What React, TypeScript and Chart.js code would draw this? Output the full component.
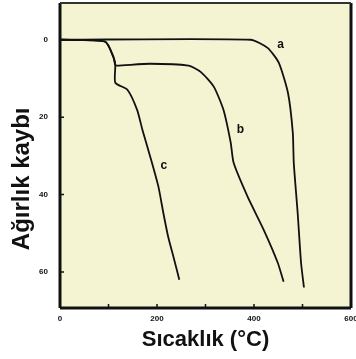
import React, { useEffect, useRef } from "react";
import { Chart, registerables } from "chart.js";

Chart.register(...registerables);

const xTickValues = [0, 200, 400, 600];
const xMinorTicks = [100, 200, 300, 400, 500];
const yTickValues = [0, 20, 40, 60];

const seriesA = [
  { x: 0, y: 0 }, { x: 393, y: 0 }, { x: 428, y: 2.1 }, { x: 451, y: 5.9 },
  { x: 470, y: 13.7 }, { x: 480, y: 24 }, { x: 482, y: 31.8 }, { x: 490, y: 44.7 },
  { x: 497, y: 57.6 }, { x: 503, y: 64 },
];
const seriesB = [
  { x: 0, y: 0 }, { x: 93, y: 0.5 }, { x: 110, y: 4.4 }, { x: 114, y: 6.5 },
  { x: 118, y: 6.7 }, { x: 186, y: 6.2 }, { x: 265, y: 6.7 }, { x: 290, y: 8.3 },
  { x: 317, y: 12.1 }, { x: 337, y: 18.1 }, { x: 352, y: 26.6 }, { x: 358, y: 31.8 },
  { x: 387, y: 40.6 }, { x: 420, y: 49.1 }, { x: 449, y: 57.6 }, { x: 461, y: 62.5 },
];
const seriesC = [
  { x: 0, y: 0 }, { x: 93, y: 0.5 }, { x: 110, y: 4.4 }, { x: 114, y: 6.5 },
  { x: 114, y: 11.1 }, { x: 139, y: 12.9 }, { x: 159, y: 18.1 }, { x: 170, y: 23.3 },
  { x: 186, y: 30.2 }, { x: 203, y: 38 }, { x: 213, y: 44.7 }, { x: 223, y: 50.9 },
  { x: 234, y: 56.1 }, { x: 246, y: 62 },
];
const curveLabels = [
  { text: "a", x: 455, y: 1.3 },
  { text: "b", x: 372, y: 23.3 },
  { text: "c", x: 214, y: 32.6 },
];

const bgPlugin = {
  id: "bgPlugin",
  beforeDraw(chart: any) {
    const { ctx, chartArea: a } = chart;
    ctx.save();
    ctx.fillStyle = "#f4f4d2";
    ctx.fillRect(a.left, a.top, a.right - a.left, a.bottom - a.top);
    ctx.restore();
  },
  afterDraw(chart: any) {
    const { ctx, chartArea: a, scales } = chart;
    ctx.save();
    ctx.strokeStyle = "#111";
    ctx.lineWidth = 3;
    ctx.beginPath();
    ctx.moveTo(a.left, a.bottom);
    ctx.lineTo(a.left, a.top);
    ctx.moveTo(a.left, a.bottom);
    ctx.lineTo(a.right, a.bottom);
    ctx.moveTo(a.right, a.bottom);
    ctx.lineTo(a.right, a.top);
    ctx.stroke();
    ctx.lineWidth = 2;
    ctx.strokeStyle = "#333";
    ctx.beginPath();
    ctx.moveTo(a.left, a.top);
    ctx.lineTo(a.right, a.top);
    ctx.stroke();
    ctx.lineWidth = 1.5;
    ctx.strokeStyle = "#111";
    ctx.beginPath();
    xMinorTicks.forEach((v) => {
      const px = scales.x.getPixelForValue(v);
      ctx.moveTo(px, a.bottom);
      ctx.lineTo(px, a.bottom - 4);
    });
    yTickValues.forEach((v) => {
      const py = scales.y.getPixelForValue(v);
      ctx.moveTo(a.left, py);
      ctx.lineTo(a.left + 4, py);
    });
    ctx.stroke();
    ctx.fillStyle = "#111";
    ctx.font = "bold 12px 'Liberation Sans', Arial, sans-serif";
    ctx.textAlign = "center";
    ctx.textBaseline = "middle";
    curveLabels.forEach((l) => {
      ctx.fillText(l.text, scales.x.getPixelForValue(l.x), scales.y.getPixelForValue(l.y));
    });
    ctx.restore();
  },
};

const zeroPad = (s: any) => {
  s.paddingTop = 0;
  s.paddingBottom = 0;
  s.paddingLeft = 0;
  s.paddingRight = 0;
};

export default function App() {
  const ref = useRef<HTMLCanvasElement | null>(null);
  useEffect(() => {
    document.body.style.margin = "0";
    const ds = (data: any[]) => ({
      data,
      borderColor: "#111",
      borderWidth: 1.8,
      pointRadius: 0,
      tension: 0.2,
      fill: false,
    });
    const chart = new Chart(ref.current!, {
      type: "line",
      data: { datasets: [ds(seriesA), ds(seriesB), ds(seriesC)] },
      options: {
        animation: false,
        responsive: false,
        layout: { padding: { top: 3, right: 5, left: 0, bottom: 0 } },
        plugins: { legend: { display: false }, tooltip: { enabled: false } },
        scales: {
          x: {
            type: "linear",
            min: 0,
            max: 600,
            afterBuildTicks: (s: any) => { s.ticks = xTickValues.map((v) => ({ value: v })); },
            afterFit: (s: any) => { s.height = 51; zeroPad(s); },
            grid: { display: false, drawTicks: false },
            border: { display: false },
            ticks: {
              padding: 6,
              color: "#111",
              font: { family: "'Liberation Sans', Arial, sans-serif", size: 8, weight: "bold" },
              maxRotation: 0,
            },
            title: {
              display: true,
              text: "Sıcaklık (°C)",
              color: "#111",
              font: { family: "'Liberation Sans', Arial, sans-serif", size: 22, weight: "bold" },
              padding: { top: 0, bottom: 6 },
            },
          },
          y: {
            type: "linear",
            reverse: true,
            min: -9.5,
            max: 69.3,
            afterBuildTicks: (s: any) => { s.ticks = yTickValues.map((v) => ({ value: v })); },
            afterFit: (s: any) => { s.width = 60; zeroPad(s); },
            grid: { display: false, drawTicks: false },
            border: { display: false },
            ticks: {
              padding: 12,
              color: "#111",
              font: { family: "'Liberation Sans', Arial, sans-serif", size: 8, weight: "bold" },
            },
            title: {
              display: true,
              text: "Ağırlık kaybı       ",
              color: "#111",
              font: { family: "'Liberation Sans', Arial, sans-serif", size: 24, weight: "bold" },
              padding: { top: 8, bottom: 0 },
            },
          },
        },
      },
      plugins: [bgPlugin],
    });
    return () => chart.destroy();
  }, []);
  return (
    <div style={{ position: "absolute", left: 0, top: 0, width: 356, height: 359, background: "#fff" }}>
      <canvas ref={ref} width={356} height={359} />
    </div>
  );
}
